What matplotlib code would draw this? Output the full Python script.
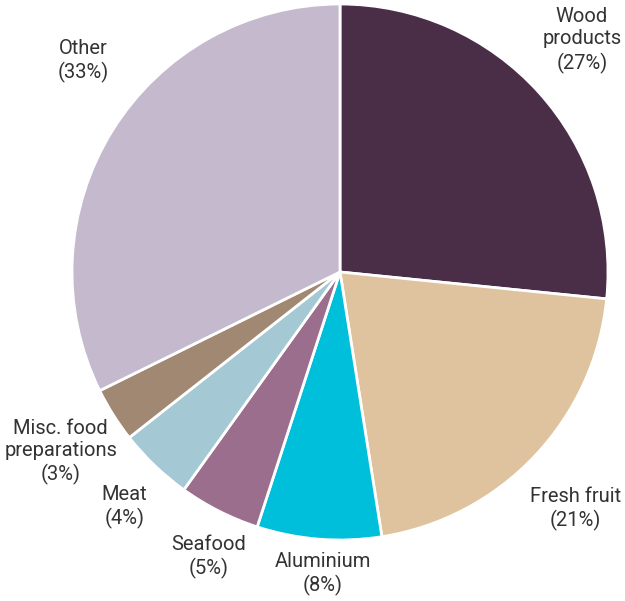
import matplotlib.pyplot as plt
import numpy as np

# export shares by product (percent)
categories = ["Wood products", "Fresh fruit", "Aluminium", "Seafood", "Meat",
              "Misc. food preparations", "Other"]
shares = [26.6, 20.9, 7.5, 4.9, 4.5, 3.3, 32.3]
label_texts = ["Wood\nproducts\n(27%)", "Fresh fruit\n(21%)", "Aluminium\n(8%)",
               "Seafood\n(5%)", "Meat\n(4%)", "Misc. food\npreparations\n(3%)",
               "Other\n(33%)"]
colors = ["#4a2e48", "#dfc39e", "#00bfdb", "#9a6e8c", "#a5c8d5", "#a08872", "#c4b9cd"]

# label placement (radius factor, angle in degrees, standard math orientation)
label_pos = [(1.25, 43.8), (1.245, -45.2), (1.13, -93.2), (1.17, -114.8),
             (1.19, -132.6), (1.24, -147.2), (1.24, 140.6)]

fig = plt.figure(figsize=(6.25, 6.01), dpi=100)
ax = fig.add_axes([0, 0, 1, 1])

ax.pie(shares, colors=colors, startangle=90, counterclock=False,
       wedgeprops=dict(edgecolor="white", linewidth=2))

for txt, (r, a) in zip(label_texts, label_pos):
    ang = np.deg2rad(a)
    ax.text(r * np.cos(ang), r * np.sin(ang), txt, ha="center", va="center",
            fontsize=14.5, family="Roboto", color="#333333", linespacing=1.25)

ax.set_xlim(-340 / 268, (625 - 340) / 268)
ax.set_ylim(-(601 - 272) / 268, 272 / 268)
ax.set_aspect("auto")
ax.axis("off")

fig.savefig("out.png", dpi=100)
